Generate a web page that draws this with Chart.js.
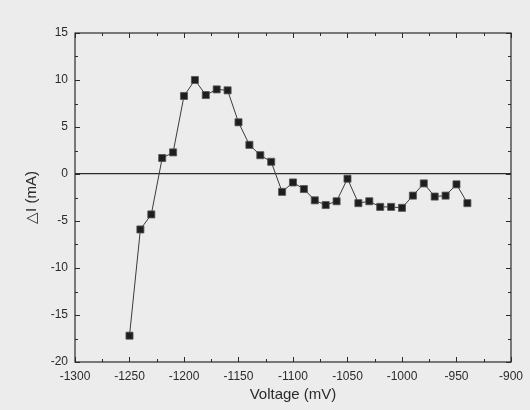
<!DOCTYPE html>
<html>
<head>
<meta charset="utf-8">
<script src="https://cdn.jsdelivr.net/npm/chart.js@4.4.1/dist/chart.umd.min.js"></script>
<style>
    html, body { margin: 0; padding: 0; background: #ececec; }
    #wrap { width: 530px; height: 410px; }
</style>
</head>
<body>
<div id="wrap"><canvas id="chart" width="530" height="410"></canvas></div>
<script>
    // values
    const voltage = [-1250, -1240, -1230, -1220, -1210, -1200, -1190, -1180, -1170, -1160,
                     -1150, -1140, -1130, -1120, -1110, -1100, -1090, -1080, -1070, -1060,
                     -1050, -1040, -1030, -1020, -1010, -1000, -990, -980, -970, -960,
                     -950, -940];
    const deltaI = [-17.2, -5.9, -4.3, 1.7, 2.3, 8.3, 10.0, 8.4, 9.0, 8.9,
                    5.5, 3.1, 2.0, 1.3, -1.9, -0.9, -1.6, -2.8, -3.3, -2.9,
                    -0.5, -3.1, -2.9, -3.5, -3.5, -3.6, -2.3, -1.0, -2.4, -2.3,
                    -1.1, -3.1];
    const xTicks = [-1300, -1250, -1200, -1150, -1100, -1050, -1000, -950, -900];
    const yTicks = [-20, -15, -10, -5, 0, 5, 10, 15];

    const ink = '#2b2b2b';

    // box round the plot plus inward ticks on all four sides
    const frameTicks = {
        id: 'frameTicks',
        afterDatasetsDraw(chart) {
            const { ctx, chartArea: a, scales: { x, y } } = chart;
            ctx.save();
            ctx.strokeStyle = ink;
            ctx.lineWidth = 1.2;
            ctx.strokeRect(a.left, a.top, a.right - a.left, a.bottom - a.top);
            ctx.lineWidth = 1;
            ctx.beginPath();
            for (let i = 0; i < xTicks.length; i++) {
                const vals = [xTicks[i]];
                if (i < xTicks.length - 1) vals.push((xTicks[i] + xTicks[i + 1]) / 2);
                vals.forEach((v, k) => {
                    const px = Math.round(x.getPixelForValue(v)) + 0.5;
                    const len = k === 0 ? 5 : 3;
                    ctx.moveTo(px, a.bottom); ctx.lineTo(px, a.bottom - len);
                    ctx.moveTo(px, a.top); ctx.lineTo(px, a.top + len);
                });
            }
            for (let i = 0; i < yTicks.length; i++) {
                const vals = [yTicks[i]];
                if (i < yTicks.length - 1) vals.push((yTicks[i] + yTicks[i + 1]) / 2);
                vals.forEach((v, k) => {
                    const py = Math.round(y.getPixelForValue(v)) + 0.5;
                    const len = k === 0 ? 5 : 3;
                    ctx.moveTo(a.left, py); ctx.lineTo(a.left + len, py);
                    ctx.moveTo(a.right, py); ctx.lineTo(a.right - len, py);
                });
            }
            ctx.stroke();
            ctx.restore();
        }
    };

    const ctx = document.getElementById('chart').getContext('2d');
    new Chart(ctx, {
        type: 'line',
        data: {
            datasets: [{
                data: voltage.map((v, i) => ({ x: v, y: deltaI[i] })),
                borderColor: '#3a3a3a',
                borderWidth: 1,
                pointStyle: 'rect',
                pointRadius: 5,
                pointBackgroundColor: '#1e1e1e',
                pointBorderColor: '#555',
                pointBorderWidth: 0.8,
                tension: 0
            }]
        },
        options: {
            responsive: false,
            animation: false,
            layout: { padding: { left: 0, top: 33, right: 15, bottom: 0 } },
            plugins: {
                legend: { display: false },
                tooltip: { enabled: false }
            },
            scales: {
                x: {
                    type: 'linear',
                    min: -1300,
                    max: -900,
                    afterFit: s => { s.height = 48; },
                    afterBuildTicks: s => { s.ticks = xTicks.map(v => ({ value: v })); },
                    grid: { display: false, drawTicks: false },
                    border: { display: false },
                    ticks: {
                        padding: 7,
                        color: ink,
                        font: { family: 'Liberation Sans', size: 12 },
                        callback: v => String(v)
                    },
                    title: {
                        display: true,
                        text: 'Voltage (mV)',
                        color: ink,
                        padding: { top: 0, bottom: 6 },
                        font: { family: 'Liberation Sans', size: 15 }
                    }
                },
                y: {
                    min: -20,
                    max: 15,
                    afterFit: s => { s.width = 75; },
                    afterBuildTicks: s => { s.ticks = yTicks.map(v => ({ value: v })); },
                    grid: {
                        drawTicks: false,
                        color: c => c.tick && c.tick.value === 0 ? ink : 'rgba(0,0,0,0)',
                        lineWidth: 1.2
                    },
                    border: { display: false },
                    ticks: {
                        padding: 7,
                        color: ink,
                        font: { family: 'Liberation Sans', size: 12 },
                        callback: v => String(v)
                    },
                    title: {
                        display: true,
                        text: '△I (mA)',
                        color: ink,
                        padding: { top: 23, bottom: 0 },
                        font: { family: 'Liberation Sans', size: 15 }
                    }
                }
            }
        },
        plugins: [frameTicks]
    });
</script>
</body>
</html>
